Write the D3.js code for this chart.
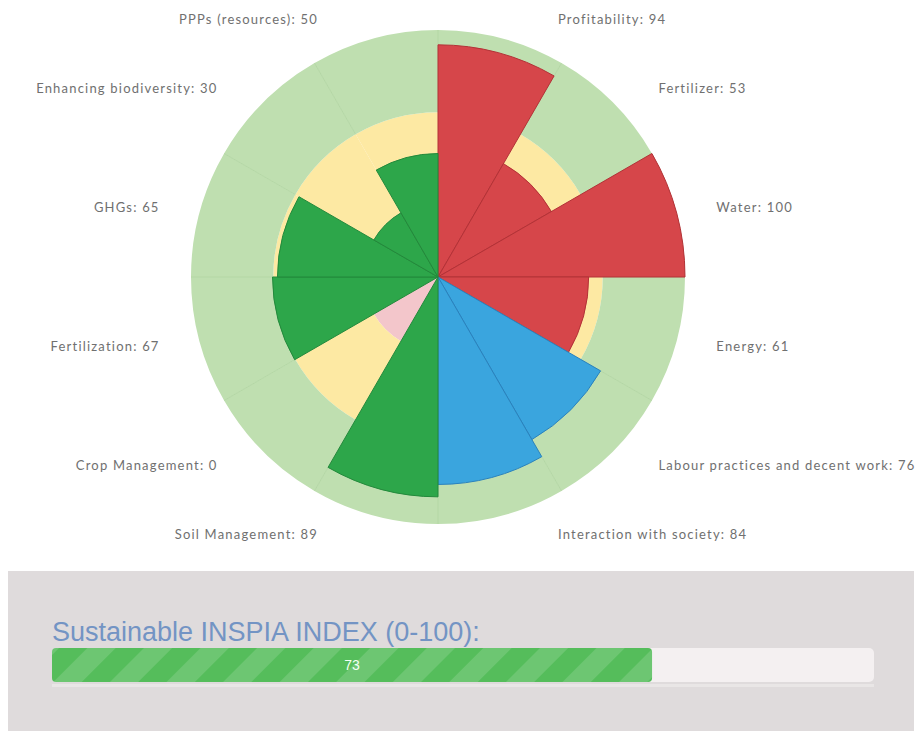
<!DOCTYPE html>
<html>
<head>
<meta charset="utf-8">
<script src="https://cdn.jsdelivr.net/npm/d3@7"></script>
<style>
  body { margin: 0; background: #fff; }
  svg { display: block; }
</style>
</head>
<body>
<div id="chart"></div>
<script>
// indicators, clockwise from the top
const categories = [
  "Profitability", "Fertilizer", "Water", "Energy",
  "Labour practices and decent work", "Interaction with society",
  "Soil Management", "Crop Management", "Fertilization", "GHGs",
  "Enhancing biodiversity", "PPPs (resources)"
];
const values = [94, 53, 100, 61, 76, 84, 89, 0, 67, 65, 30, 50];
const groups = [
  "economic", "economic", "economic", "economic",
  "social", "social",
  "environmental", "environmental", "environmental", "environmental", "environmental", "environmental"
];
// background bands (score thresholds)
const bands = [[0, 30], [30, 66.7], [66.7, 100]];
const indexValue = 73;
const indexTitle = "Sustainable INSPIA INDEX (0-100):";

const width = 922, height = 731;
const cx = 438, cy = 277, R = 247;

const svg = d3.select("#chart").append("svg")
  .attr("width", width)
  .attr("height", height);

const r = d3.scaleLinear().domain([0, 100]).range([0, R]);
const angle = d3.scaleBand()
  .domain(d3.range(categories.length))
  .range([0, 2 * Math.PI]);
const mid = (i) => angle(i) + angle.bandwidth() / 2;

const fill = d3.scaleOrdinal()
  .domain(["economic", "social", "environmental"])
  .range(["#d6464a", "#3aa5de", "#2da64a"]);
const edge = d3.scaleOrdinal()
  .domain(["economic", "social", "environmental"])
  .range(["#b33237", "#2a82bd", "#23893b"]);
const bandColor = ["#f3c6cb", "#fde9a3", "#bfdfb0"];

const g = svg.append("g").attr("transform", `translate(${cx},${cy})`);

// background bands per sector
const arc = d3.arc();
categories.forEach((c, i) => {
  bands.forEach((b, k) => {
    g.append("path")
      .attr("d", arc({
        innerRadius: r(b[0]), outerRadius: r(b[1]),
        startAngle: angle(i), endAngle: angle(i) + angle.bandwidth()
      }))
      .attr("fill", bandColor[k]);
  });
});

// faint sector dividers in the outer band
g.selectAll(".divider")
  .data(d3.range(categories.length))
  .enter()
  .append("line")
  .attr("x1", (i) => r(bands[2][0]) * Math.sin(angle(i)))
  .attr("y1", (i) => -r(bands[2][0]) * Math.cos(angle(i)))
  .attr("x2", (i) => r(100) * Math.sin(angle(i)))
  .attr("y2", (i) => -r(100) * Math.cos(angle(i)))
  .attr("stroke", "#b4d7a5")
  .attr("stroke-width", 1);

// bars
g.selectAll(".bar")
  .data(values)
  .enter()
  .append("path")
  .attr("d", (v, i) => arc({
    innerRadius: 0, outerRadius: r(v),
    startAngle: angle(i), endAngle: angle(i) + angle.bandwidth()
  }))
  .attr("fill", (v, i) => fill(groups[i]))
  .attr("stroke", (v, i) => edge(groups[i]))
  .attr("stroke-width", (v) => v > 0 ? 1 : 0);

// labels
svg.selectAll(".label")
  .data(categories)
  .enter()
  .append("text")
  .attr("x", (c, i) => {
    const s = Math.sin(mid(i));
    return cx + Math.sign(s) * (62 + 224 * Math.abs(s));
  })
  .attr("y", (c, i) => cy - 267 * Math.cos(mid(i)))
  .attr("dy", "0.35em")
  .attr("text-anchor", (c, i) => Math.sin(mid(i)) > 0 ? "start" : "end")
  .style("font-family", "Lato, 'DejaVu Sans', sans-serif")
  .style("font-size", "13px")
  .style("letter-spacing", "1.2px")
  .style("fill", "#707070")
  .text((c, i) => `${c}: ${values[i]}`);

// index panel
svg.append("rect")
  .attr("x", 8).attr("y", 571)
  .attr("width", 906).attr("height", 160)
  .attr("fill", "#dfdbdc");

svg.append("text")
  .attr("x", 52).attr("y", 641)
  .style("font-family", "'Liberation Sans', Arial, sans-serif")
  .style("font-size", "27px")
  .style("letter-spacing", "0px")
  .style("fill", "#7394c4")
  .text(indexTitle);

const defs = svg.append("defs");
const pattern = defs.append("pattern")
  .attr("id", "stripes")
  .attr("patternUnits", "userSpaceOnUse")
  .attr("width", 40).attr("height", 40)
  .attr("patternTransform", "rotate(45)");
pattern.append("rect").attr("width", 40).attr("height", 40).attr("fill", "#55bd5b");
pattern.append("rect").attr("width", 20).attr("height", 40).attr("fill", "rgba(255,255,255,0.14)");

const barX = d3.scaleLinear().domain([0, 100]).range([52, 874]);

svg.append("rect")
  .attr("x", barX(0)).attr("y", 684)
  .attr("width", barX(100) - barX(0)).attr("height", 3)
  .attr("fill", "#e9e6e6");
svg.append("rect")
  .attr("x", barX(0)).attr("y", 648)
  .attr("width", barX(100) - barX(0)).attr("height", 34)
  .attr("rx", 5)
  .attr("fill", "#f4f0f1");
svg.append("rect")
  .attr("x", barX(0)).attr("y", 648)
  .attr("width", barX(indexValue) - barX(0)).attr("height", 34)
  .attr("rx", 4)
  .attr("fill", "url(#stripes)");

svg.append("text")
  .attr("x", (barX(0) + barX(indexValue)) / 2)
  .attr("y", 665)
  .attr("dy", "0.35em")
  .attr("text-anchor", "middle")
  .style("font-family", "'Liberation Sans', Arial, sans-serif")
  .style("font-size", "14px")
  .style("fill", "#f4fff4")
  .text(indexValue);
</script>
</body>
</html>
